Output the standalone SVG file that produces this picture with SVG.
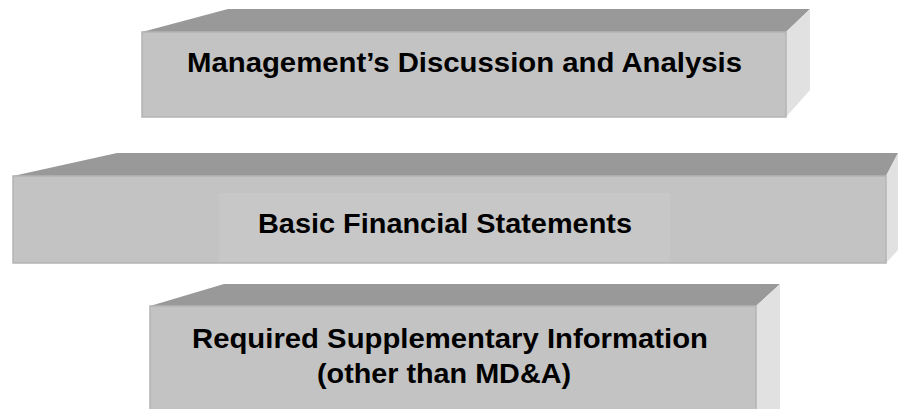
<svg xmlns="http://www.w3.org/2000/svg" width="899" height="409" viewBox="0 0 899 409">
<style>
.top{fill:#999999}
.front{fill:#c3c3c3;stroke:#b4b4b4;stroke-width:1.5}
.side{fill:#e1e1e1}
.inner{fill:#c7c7c7}
.lbl{font-family:"Liberation Sans",Arial,sans-serif;font-weight:bold;font-size:28px;fill:#000}
</style>
<rect width="899" height="409" fill="#ffffff"/>
<g id="mda">
<polygon class="top" points="142,32 228,9 810,9 786,32"/>
<polygon class="side" points="786,32 810,9 810,90 786,117"/>
<rect class="front" x="142" y="32" width="644" height="85"/>
<text class="lbl" x="187" y="72" textLength="555" lengthAdjust="spacingAndGlyphs">Management’s Discussion and Analysis</text>
</g>
<g id="bfs">
<polygon class="top" points="13,176 117,153 898,153 886,176"/>
<polygon class="side" points="886,176 898,153 898,250 886,263"/>
<rect class="front" x="13" y="176" width="873" height="87"/>
<rect class="inner" x="219" y="193" width="451" height="69"/>
<text class="lbl" x="258" y="233" textLength="374" lengthAdjust="spacingAndGlyphs">Basic Financial Statements</text>
</g>
<g id="rsi">
<polygon class="top" points="150,306 224,284 780,284 756,306"/>
<polygon class="side" points="756,306 780,284 780,409 756,409"/>
<rect class="front" x="150" y="306" width="606" height="110"/>
<text class="lbl" x="192" y="348" textLength="516" lengthAdjust="spacingAndGlyphs">Required Supplementary Information</text>
<text class="lbl" x="317" y="383" textLength="254" lengthAdjust="spacingAndGlyphs">(other than MD&amp;A)</text>
</g>
<g id="connectors"/>
</svg>
